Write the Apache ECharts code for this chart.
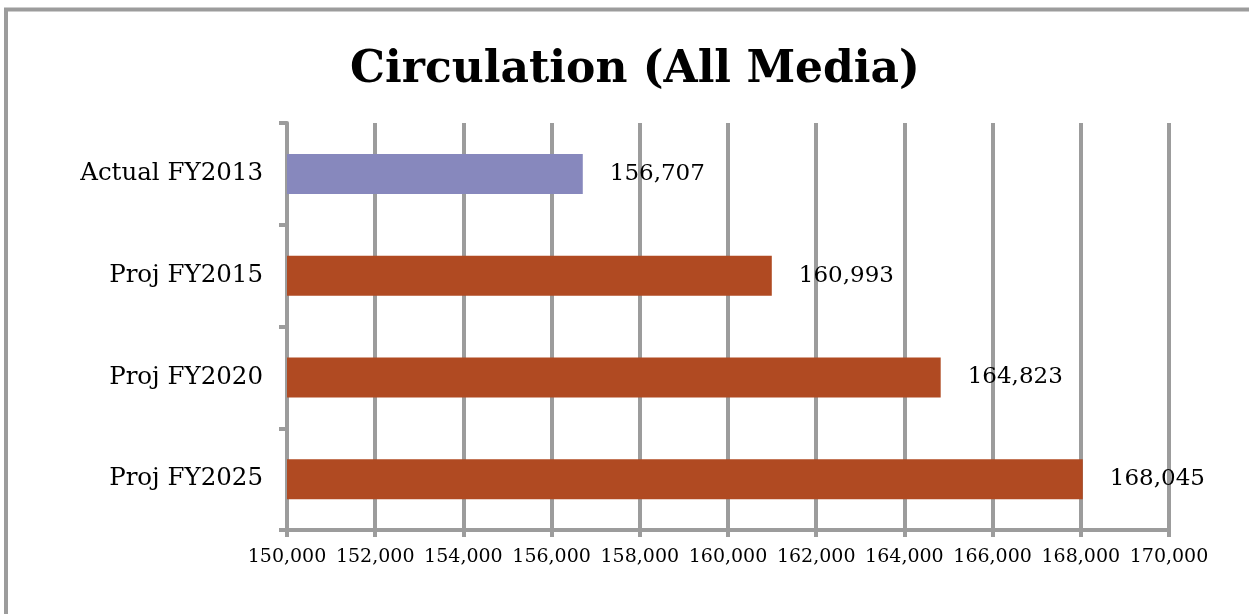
<!DOCTYPE html>
<html>
<head>
<meta charset="utf-8">
<script src="https://cdn.jsdelivr.net/npm/echarts@6/dist/echarts.min.js"></script>
<style>
html, body { margin: 0; padding: 0; background: #fff; }
#main { width: 1249px; height: 614px; }
</style>
</head>
<body>
<div id="main"></div>
<script>
var categories = ['Actual FY2013', 'Proj FY2015', 'Proj FY2020', 'Proj FY2025'];
var values = [156707, 160993, 164823, 168045];
var barColors = ['#8788bd', '#b04a22', '#b04a22', '#b04a22'];
var xMin = 150000, xMax = 170000, xStep = 2000;

var fmt = function (v) {
	return String(v).replace(/\B(?=(\d{3})+(?!\d))/g, ',');
};

var chart = echarts.init(document.getElementById('main'));
var gridColor = '#9c9c9c';
chart.setOption({
	animation: false,
	title: {
		text: 'Circulation (All Media)',
		left: 630,
		textAlign: 'center',
		top: 44,
		textStyle: {
			fontFamily: 'DejaVu Serif',
			fontWeight: 'bold',
			fontSize: 44,
			color: '#000'
		}
	},
	graphic: [{
		type: 'rect',
		shape: { x: 6, y: 9.5, width: 2000, height: 2000 },
		style: { fill: 'none', stroke: gridColor, lineWidth: 4 },
		silent: true
	}],
	grid: { left: 287, right: 80, top: 123, bottom: 84 },
	xAxis: {
		type: 'value',
		min: xMin,
		max: xMax,
		interval: xStep,
		axisLine: { show: true, lineStyle: { color: gridColor, width: 4 } },
		axisTick: { show: true, length: 7, lineStyle: { color: gridColor, width: 4 } },
		splitLine: { show: true, lineStyle: { color: gridColor, width: 4 } },
		axisLabel: {
			margin: 18,
			fontFamily: 'DejaVu Serif',
			fontSize: 19,
			color: '#000',
			formatter: fmt
		}
	},
	yAxis: {
		type: 'category',
		inverse: true,
		data: categories,
		axisLine: { show: true, lineStyle: { color: gridColor, width: 4 } },
		axisTick: { show: true, length: 8, lineStyle: { color: gridColor, width: 4 } },
		axisLabel: {
			margin: 24,
			fontFamily: 'DejaVu Serif',
			fontSize: 24.5,
			color: '#000'
		}
	},
	series: [{
		type: 'bar',
		barWidth: 40,
		z: 3,
		data: values.map(function (v, i) {
			return { value: v, itemStyle: { color: barColors[i] } };
		}),
		label: {
			show: true,
			position: 'right',
			distance: 27,
			fontFamily: 'DejaVu Serif',
			fontSize: 23,
			color: '#000',
			formatter: function (p) { return fmt(p.value); }
		}
	}]
});
</script>
</body>
</html>
